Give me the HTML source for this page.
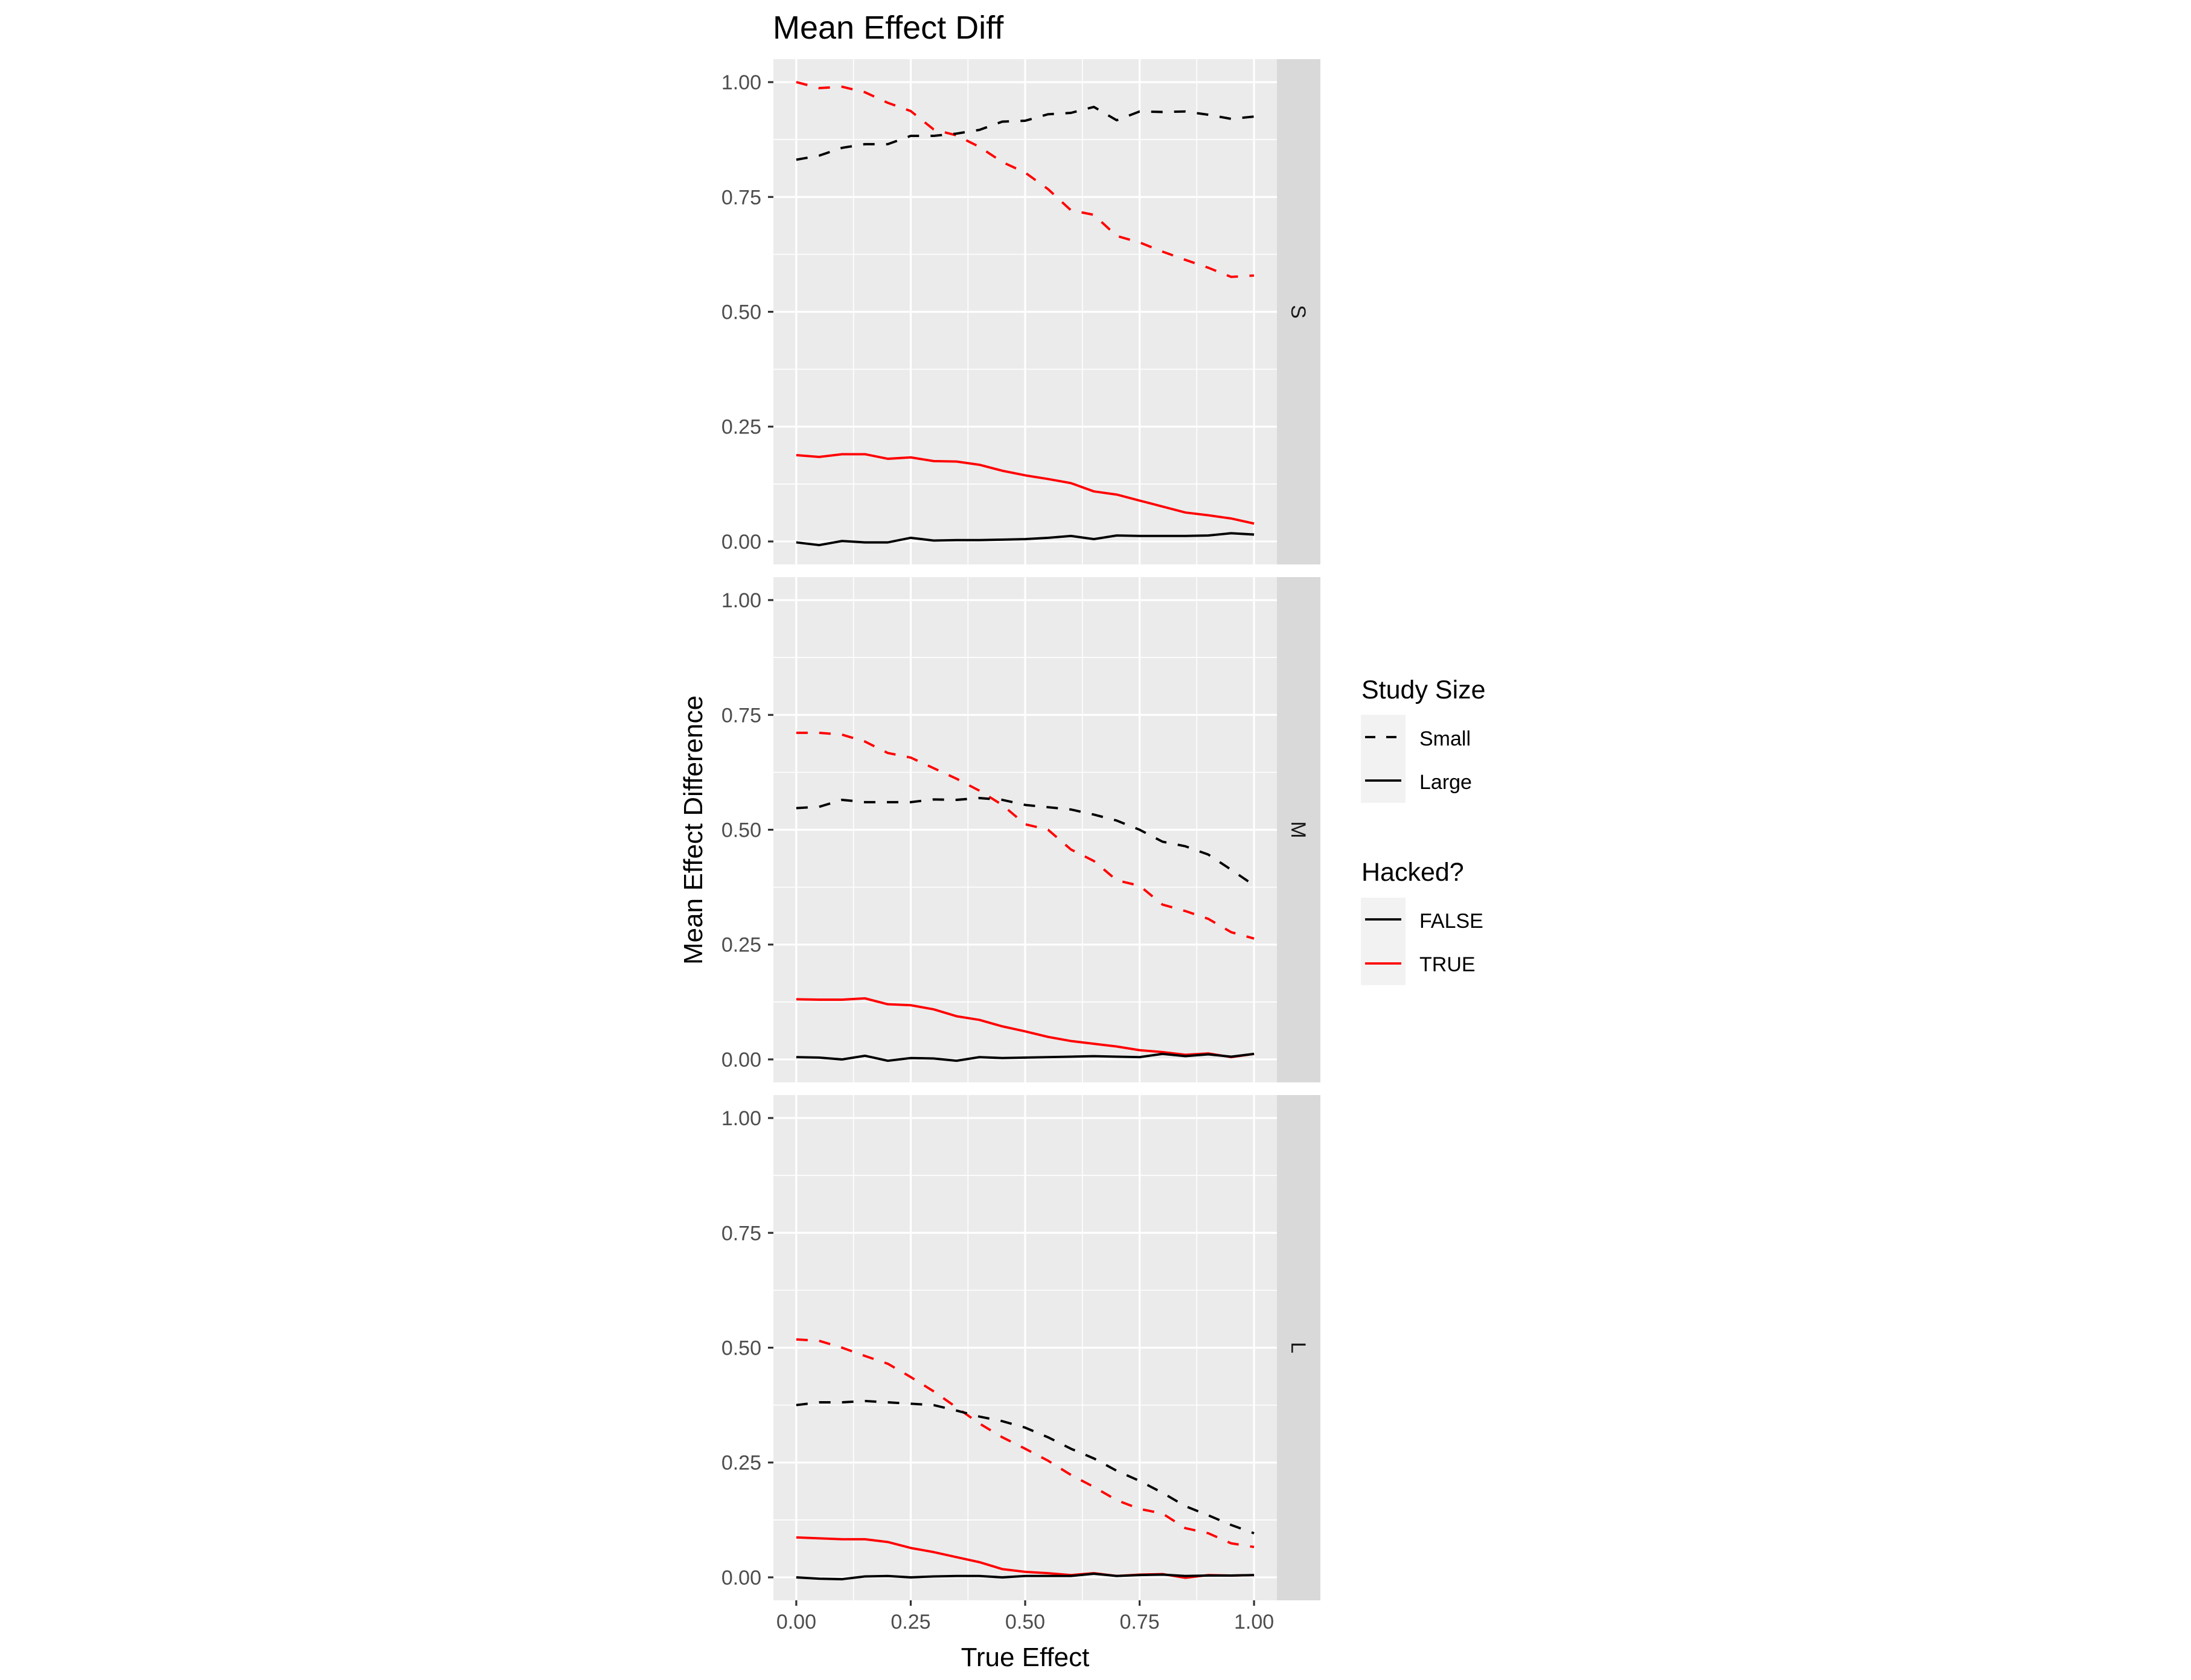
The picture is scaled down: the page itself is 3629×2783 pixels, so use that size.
<!DOCTYPE html>
<html><head><meta charset="utf-8"><style>
html,body{margin:0;padding:0;background:#fff;}
svg{display:block;font-family:"Liberation Sans",Arial,sans-serif;}
</style></head><body>
<svg id="chart" width="3629" height="2783" viewBox="0 0 3629 2783" xmlns="http://www.w3.org/2000/svg">
<rect width="3629" height="2783" fill="#fff"/>
<text x="1280" y="64" font-size="54" fill="#000">Mean Effect Diff</text>
<text transform="translate(1163,1375) rotate(-90)" text-anchor="middle" font-size="44" fill="#000">Mean Effect Difference</text>
<text x="1698" y="2760" text-anchor="middle" font-size="44" fill="#000">True Effect</text>
<g id="panels"></g>
<g id="legend">
  <text x="2255" y="1157" font-size="43" fill="#000">Study Size</text>
  <rect x="2254" y="1184" width="74" height="146" fill="#F2F2F2"/>
  <line x1="2261" y1="1221" x2="2321" y2="1221" stroke="#000" stroke-width="3.8" stroke-dasharray="17 18"/>
  <text x="2351" y="1235" font-size="34" fill="#000">Small</text>
  <line x1="2261" y1="1293" x2="2321" y2="1293" stroke="#000" stroke-width="3.8"/>
  <text x="2351" y="1307" font-size="34" fill="#000">Large</text>
  <text x="2255" y="1459" font-size="43" fill="#000">Hacked?</text>
  <rect x="2254" y="1487" width="74" height="145" fill="#F2F2F2"/>
  <line x1="2261" y1="1523" x2="2321" y2="1523" stroke="#000" stroke-width="3.8"/>
  <text x="2351" y="1537" font-size="34" fill="#000">FALSE</text>
  <line x1="2261" y1="1596" x2="2321" y2="1596" stroke="#f00" stroke-width="3.8"/>
  <text x="2351" y="1609" font-size="34" fill="#000">TRUE</text>
</g>
</svg>
<script>
const xValues = [0,0.05,0.1,0.15,0.2,0.25,0.3,0.35,0.4,0.45,0.5,0.55,0.6,0.65,0.7,0.75,0.8,0.85,0.9,0.95,1];
const panelLabels = ["S","M","L"];
const xTicks = [0,0.25,0.5,0.75,1];
const xTickLabels = ["0.00","0.25","0.50","0.75","1.00"];
const yTicks = [0,0.25,0.5,0.75,1];
const yTickLabels = ["0.00","0.25","0.50","0.75","1.00"];
// S panel
const sSmallTrue  = [1.0,0.987,0.99,0.978,0.955,0.937,0.897,0.884,0.859,0.826,0.803,0.767,0.721,0.711,0.665,0.651,0.631,0.613,0.596,0.576,0.579];
const sSmallFalse = [0.831,0.84,0.857,0.865,0.865,0.883,0.883,0.888,0.896,0.914,0.916,0.93,0.933,0.946,0.917,0.936,0.935,0.936,0.929,0.92,0.925];
const sLargeTrue  = [0.188,0.184,0.19,0.19,0.18,0.183,0.175,0.174,0.167,0.154,0.144,0.136,0.127,0.109,0.102,0.089,0.076,0.063,0.057,0.05,0.039];
const sLargeFalse = [-0.002,-0.008,0.001,-0.002,-0.002,0.008,0.002,0.003,0.003,0.004,0.005,0.008,0.012,0.005,0.013,0.012,0.012,0.012,0.013,0.018,0.015];
// M panel
const mSmallTrue  = [0.711,0.711,0.707,0.692,0.667,0.657,0.634,0.611,0.585,0.554,0.512,0.5,0.457,0.432,0.39,0.378,0.337,0.323,0.306,0.277,0.263];
const mSmallFalse = [0.547,0.55,0.565,0.56,0.56,0.56,0.566,0.565,0.569,0.565,0.554,0.549,0.544,0.533,0.52,0.5,0.474,0.464,0.446,0.413,0.379];
const mLargeTrue  = [0.131,0.13,0.13,0.133,0.12,0.118,0.109,0.094,0.086,0.072,0.061,0.049,0.04,0.034,0.028,0.02,0.016,0.01,0.013,0.005,0.012];
const mLargeFalse = [0.005,0.004,0,0.008,-0.003,0.003,0.002,-0.003,0.005,0.003,0.004,0.005,0.006,0.007,0.006,0.005,0.012,0.007,0.011,0.006,0.012];
// L panel
const lSmallTrue  = [0.518,0.515,0.5,0.482,0.465,0.436,0.405,0.37,0.335,0.305,0.28,0.254,0.223,0.197,0.168,0.149,0.139,0.107,0.096,0.074,0.066];
const lSmallFalse = [0.375,0.381,0.381,0.384,0.381,0.378,0.375,0.363,0.35,0.34,0.326,0.305,0.28,0.259,0.232,0.21,0.184,0.155,0.135,0.114,0.096];
const lLargeTrue  = [0.087,0.085,0.083,0.083,0.077,0.064,0.055,0.044,0.033,0.018,0.012,0.009,0.005,0.009,0.003,0.006,0.007,-0.001,0.005,0.004,0.005];
const lLargeFalse = [0,-0.003,-0.004,0.002,0.003,0,0.002,0.003,0.003,0,0.003,0.003,0.003,0.008,0.003,0.005,0.006,0.003,0.004,0.004,0.005];

const panelSeries = [
  [sSmallTrue,sSmallFalse,sLargeTrue,sLargeFalse],
  [mSmallTrue,mSmallFalse,mLargeTrue,mLargeFalse],
  [lSmallTrue,lSmallFalse,lLargeTrue,lLargeFalse]
];
const seriesNames = ["small-true","small-false","large-true","large-false"];
const seriesColors = ["#f00","#000","#f00","#000"];
const seriesDash = ["19 19","19 19",null,null];

const NS = "http://www.w3.org/2000/svg";
const PL = 1281, PR = 2115, STRIPR = 2187, PH = 837, GAP = 21, TOP0 = 98;
const xs = v => PL + (v + 0.05) / 1.1 * (PR - PL);
function mk(tag, attrs, parent) {
  const e = document.createElementNS(NS, tag);
  for (const k in attrs) e.setAttribute(k, attrs[k]);
  parent.appendChild(e);
  return e;
}
const root = document.getElementById("panels");
panelLabels.forEach((lab, p) => {
  const top = TOP0 + p * (PH + GAP), bot = top + PH;
  const ys = v => bot - (v + 0.05) / 1.1 * PH;
  const g = mk("g", {}, root);
  
  
  const bg = mk("rect", {x: PL, y: top, width: PR - PL, height: PH, fill: "#EBEBEB"}, g);
  
  
  for (let i = 0; i < yTicks.length - 1; i++) {
    const v = (yTicks[i] + yTicks[i + 1]) / 2;
    const l = mk("line", {x1: PL, x2: PR, y1: ys(v), y2: ys(v), stroke: "#fff", "stroke-width": 1.6}, g);
    
    
  }
  for (let i = 0; i < xTicks.length - 1; i++) {
    const v = (xTicks[i] + xTicks[i + 1]) / 2;
    const l = mk("line", {x1: xs(v), x2: xs(v), y1: top, y2: bot, stroke: "#fff", "stroke-width": 1.6}, g);
    
    
  }
  yTicks.forEach((v, i) => {
    const l = mk("line", {x1: PL, x2: PR, y1: ys(v), y2: ys(v), stroke: "#fff", "stroke-width": 3.2}, g);
    
    
    const t = mk("line", {x1: PL - 9, x2: PL, y1: ys(v), y2: ys(v), stroke: "#333", "stroke-width": 3.2}, g);
    
    
    const tx = mk("text", {x: PL - 20, y: ys(v) + 12, "text-anchor": "end", "font-size": 34, fill: "#4D4D4D"}, g);
    tx.textContent = yTickLabels[i];
    
    
  });
  xTicks.forEach(v => {
    const l = mk("line", {x1: xs(v), x2: xs(v), y1: top, y2: bot, stroke: "#fff", "stroke-width": 3.2}, g);
    
    
  });
  const strip = mk("rect", {x: PR, y: top, width: STRIPR - PR, height: PH, fill: "#D9D9D9"}, g);
  
  
  const st = mk("text", {transform: `translate(${(PR + STRIPR) / 2 - 12},${top + PH / 2}) rotate(90)`, "text-anchor": "middle", "font-size": 34, fill: "#1A1A1A"}, g);
  st.textContent = lab;
  
  
  panelSeries[p].forEach((arr, s) => {
    const d = arr.map((v, i) => (i ? "L" : "M") + xs(xValues[i]).toFixed(1) + "," + ys(v).toFixed(1)).join(" ");
    const attrs = {d: d, fill: "none", stroke: seriesColors[s], "stroke-width": 3.9, "stroke-linejoin": "round"};
    if (seriesDash[s]) attrs["stroke-dasharray"] = seriesDash[s];
    const path = mk("path", attrs, g);
    
    
  });
  if (p === 2) {
    xTicks.forEach((v, i) => {
      const t = mk("line", {x1: xs(v), x2: xs(v), y1: bot, y2: bot + 9, stroke: "#333", "stroke-width": 3.2}, g);
      
      
      const tx = mk("text", {x: xs(v), y: bot + 47, "text-anchor": "middle", "font-size": 34, fill: "#4D4D4D"}, g);
      tx.textContent = xTickLabels[i];
      
      
    });
  }
});
</script>
</body></html>
